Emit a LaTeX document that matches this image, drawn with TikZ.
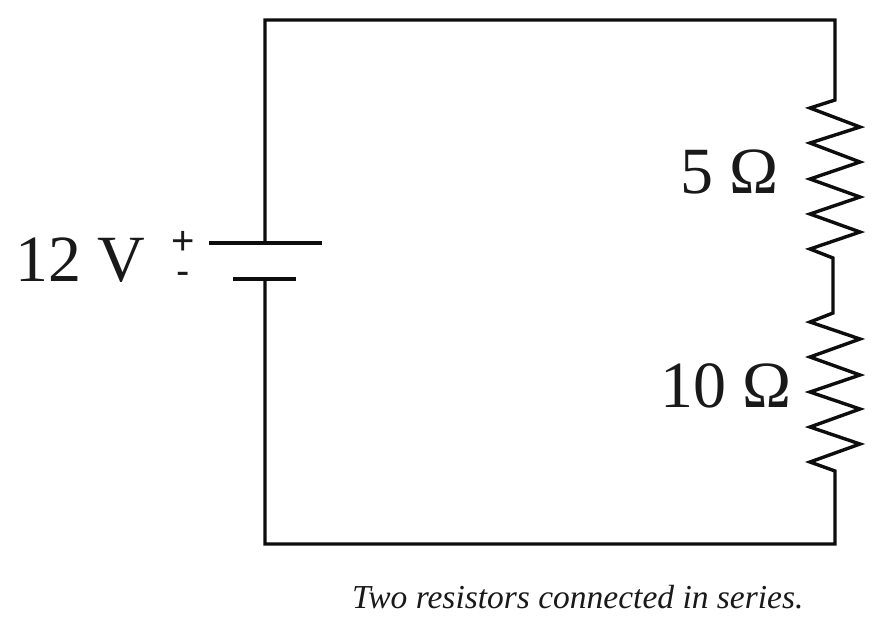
\documentclass[tikz,border=0pt]{standalone}
\usepackage{fontspec}
\setmainfont{Liberation Serif}
\newfontfamily\signfont{Liberation Sans}
\tikzset{
  wire/.style={line width=3.4pt,line cap=round,line join=miter,color=black!95},
  plate/.style={line width=3.6pt,color=black!95},
  value/.style={inner sep=0pt,anchor=base west,font=\fontsize{66}{70}\selectfont,text=black!90},
  sign/.style={inner sep=0pt,anchor=center,font=\signfont\fontsize{40}{44}\selectfont,text=black!90},
  caption/.style={inner sep=0pt,anchor=base west,font=\itshape\fontsize{33.5}{36}\selectfont,text=black!90}
}
\begin{document}
\begin{tikzpicture}[x=1pt,y=-1pt]
\useasboundingbox (0,0) rectangle (888,622);
\fill[white] (0,0) rectangle (888,622);
\coordinate (tl) at (265,20);
\coordinate (tr) at (835,20);
\coordinate (bl) at (265,544);
\coordinate (br) at (835,544);
\coordinate (posL) at (209,243);
\coordinate (posR) at (322,243);
\coordinate (posM) at (265,243);
\coordinate (negL) at (233,279);
\coordinate (negR) at (296,279);
\coordinate (negM) at (265,279);
% battery and outer wiring with resistors
\draw[wire] (posM) -- (tl) -- (tr) -- (835,100)
  -- (810,108) -- (860,127) -- (810,143) -- (860,162) -- (810,179)
  -- (860,197) -- (810,214) -- (860,232) -- (810,249) -- (833,258)
  -- (833,313)
  -- (810,322) -- (860,339) -- (810,357) -- (860,375) -- (810,392)
  -- (860,409) -- (810,427) -- (860,444) -- (810,462) -- (835,471)
  -- (br) -- (bl) -- (negM);
\draw[plate] (posL) -- (posR);
\draw[plate] (negL) -- (negR);
\node[value] (v12) at (15,281) {12 V};
\node[value] (r5) at (680,193) {5 Ω};
\node[value] (r10) at (660,407) {10 Ω};
\node[sign] (plus) at (183,243) {+};
\node[sign] (minus) at (183,278) {-};
\node[caption] (cap) at (352,608) {Two resistors connected in series.};
\end{tikzpicture}
\end{document}
